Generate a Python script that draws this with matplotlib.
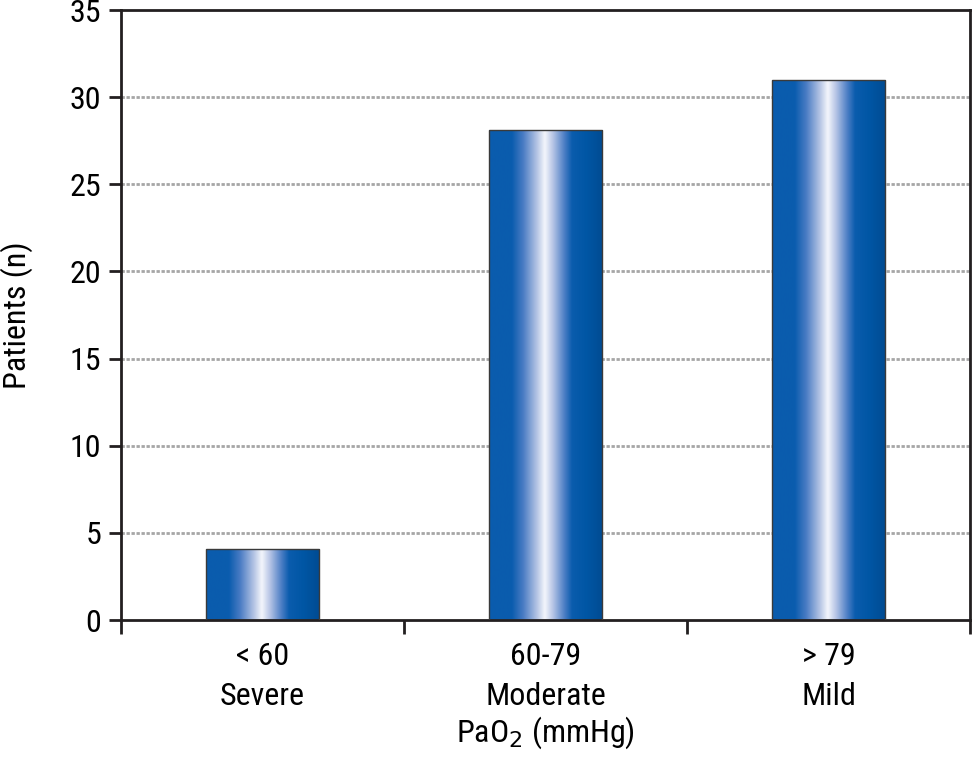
import numpy as np
import matplotlib
matplotlib.use("Agg")
import matplotlib.pyplot as plt
from matplotlib.colors import LinearSegmentedColormap

plt.rcParams['font.family'] = ['Roboto Condensed', 'Archivo Narrow', 'DejaVu Sans']

categories = ["< 60\nSevere", "60-79\nModerate", "> 79\nMild"]
patients = [4.1, 28.1, 31.0]

# horizontal shading: dark blue edges, white highlight in the middle
shade = LinearSegmentedColormap.from_list("shade", [
    (0.00, "#0b5cad"), (0.20, "#0a5cae"), (0.30, "#4a7cc4"),
    (0.42, "#b4c4e4"), (0.49, "#f4f6fc"), (0.56, "#b8c6e6"),
    (0.66, "#4f80c6"), (0.73, "#0a5cad"), (0.86, "#0056a4"), (1.00, "#004b92"),
])

fig = plt.figure(figsize=(9.74, 7.65), dpi=100)
ax = fig.add_axes([0.1242, 0.1895, 0.8717, 0.7974])

x = np.arange(len(categories))
bars = ax.bar(x, patients, width=0.4, color="none", edgecolor="#3a3a3a",
              linewidth=1.0, zorder=3)
grad = np.linspace(0, 1, 256).reshape(1, -1)
for b in bars:
    x0, w, h = b.get_x(), b.get_width(), b.get_height()
    im = ax.imshow(grad, cmap=shade, aspect="auto", extent=[x0, x0 + w, 0, h],
                   interpolation="bicubic", zorder=2)
    im.set_clip_path(b)

ax.set_xlim(-0.5, 2.5)
ax.set_ylim(0, 35)
ax.set_yticks(range(0, 36, 5))
for yv in range(5, 35, 5):
    ax.axhline(yv, color="#a6a6a6", linewidth=2, linestyle=(0, (1.2, 0.6)), zorder=1)

ax.set_xticks([-0.5, 0.5, 1.5, 2.5])
ax.set_xticklabels([])
ax.set_xticks(x, minor=True)
ax.set_xticklabels(categories, minor=True, fontsize=23)
for t in ax.get_xticklabels(minor=True):
    t.set_linespacing(1.45)
ax.tick_params(axis="x", which="minor", length=0, pad=16)
ax.tick_params(axis="x", which="major", length=10, width=2, direction="out", color="#231f20")
ax.tick_params(axis="y", length=9, width=2, direction="out", labelsize=23, pad=5,
               color="#231f20")

for s in ax.spines.values():
    s.set_linewidth(2)
    s.set_color("#231f20")

ax.set_ylabel("Patients (n)", fontsize=23)
ax.yaxis.set_label_coords(-0.104, 0.5)
ax.set_xlabel("PaO$_2$ (mmHg)", fontsize=23, labelpad=3)

fig.savefig("out.png", dpi=100)
